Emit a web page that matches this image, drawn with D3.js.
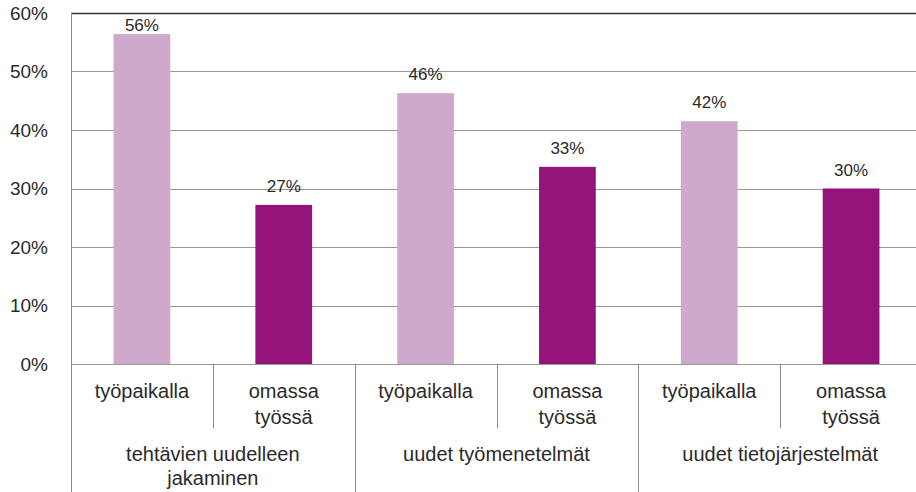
<!doctype html>
<html>
  <head>
    <meta charset="utf-8">
    <title>Bar chart with D3</title>
    <script src="https://cdnjs.cloudflare.com/ajax/libs/d3/7.8.5/d3.min.js"></script>
    <style>
      body { margin: 0; background: #fff; }
      text { font-family: "Liberation Sans", Arial, sans-serif; fill: #2a2a2a; }
    </style>
  </head>
  <body>
    <div id="chart"></div>
    <script>
    // data
    const groups = ['tehtävien uudelleen|jakaminen', 'uudet työmenetelmät', 'uudet tietojärjestelmät'];
    const subLabels = ['työpaikalla', 'omassa|työssä'];
    const workplace = [56.4, 46.3, 41.5];
    const ownWork = [27.2, 33.7, 30.0];
    const valueLabels = ['56%', '27%', '46%', '33%', '42%', '30%'];
    const yTicks = [0, 10, 20, 30, 40, 50, 60];

    const colors = ['#cfa9cc', '#93137a'];

    // flatten into one row per bar
    const bars = [];
    groups.forEach((g, gi) => {
      bars.push({ key: gi + '-0', group: gi, sub: 0, value: workplace[gi] });
      bars.push({ key: gi + '-1', group: gi, sub: 1, value: ownWork[gi] });
    });
    bars.forEach((d, i) => d.label = valueLabels[i]);

    const width = 916, height = 492;
    const mLeft = 71, mRight = 922, mTop = 13, mBottom = 364;

    const svg = d3.select('#chart').append('svg')
      .attr('width', width)
      .attr('height', height);

    const x = d3.scaleBand()
      .domain(bars.map(d => d.key))
      .range([mLeft, mRight])
      .paddingInner(0.6)
      .paddingOuter(0.3);

    const xGroup = d3.scaleBand()
      .domain(groups.map((g, i) => i))
      .range([mLeft, mRight]);

    const y = d3.scaleLinear()
      .domain([0, 60])
      .range([mBottom, mTop]);

    // gridlines
    svg.append('g')
      .selectAll('line')
      .data(yTicks)
      .join('line')
      .attr('x1', mLeft).attr('x2', width)
      .attr('y1', d => Math.round(y(d)) + 0.5)
      .attr('y2', d => Math.round(y(d)) + 0.5)
      .attr('stroke', d => d === 60 ? '#333' : '#999')
      .attr('stroke-width', d => d === 60 ? 1.5 : 1);

    // y tick labels
    svg.append('g')
      .selectAll('text')
      .data(yTicks)
      .join('text')
      .attr('x', 48)
      .attr('y', d => y(d))
      .attr('dy', '0.36em')
      .attr('text-anchor', 'end')
      .style('font-size', '19px')
      .text(d => d + '%');

    // bars
    svg.append('g')
      .selectAll('rect')
      .data(bars)
      .join('rect')
      .attr('x', d => x(d.key))
      .attr('y', d => y(d.value))
      .attr('width', x.bandwidth())
      .attr('height', d => y(0) - y(d.value))
      .attr('fill', d => colors[d.sub]);

    // value labels
    svg.append('g')
      .selectAll('text')
      .data(bars)
      .join('text')
      .attr('x', d => x(d.key) + x.bandwidth() / 2)
      .attr('y', d => Math.max(y(d.value) - 13, 31))
      .attr('text-anchor', 'middle')
      .style('font-size', '17px')
      .text(d => d.label);

    // left axis line, running down through the category area
    svg.append('line')
      .attr('x1', mLeft + 0.5).attr('x2', mLeft + 0.5)
      .attr('y1', mTop).attr('y2', height)
      .attr('stroke', '#888');

    // inner separators between the two bars of each group
    svg.append('g')
      .selectAll('line')
      .data(groups.map((g, i) => i))
      .join('line')
      .attr('x1', d => Math.round(xGroup(d) + xGroup.bandwidth() / 2) + 0.5)
      .attr('x2', d => Math.round(xGroup(d) + xGroup.bandwidth() / 2) + 0.5)
      .attr('y1', mBottom)
      .attr('y2', 428)
      .attr('stroke', '#888');

    // group separators
    svg.append('g')
      .selectAll('line')
      .data(groups.map((g, i) => i).slice(1))
      .join('line')
      .attr('x1', d => Math.round(xGroup(d)) + 0.5)
      .attr('x2', d => Math.round(xGroup(d)) + 0.5)
      .attr('y1', mBottom)
      .attr('y2', height)
      .attr('stroke', '#888');

    // sub category labels
    const subText = svg.append('g')
      .selectAll('text')
      .data(bars)
      .join('text')
      .attr('text-anchor', 'middle')
      .style('font-size', '20px');
    subText.each(function(d) {
      const lines = subLabels[d.sub].split('|');
      const cx = x(d.key) + x.bandwidth() / 2;
      d3.select(this).selectAll('tspan')
        .data(lines)
        .join('tspan')
        .attr('x', cx)
        .attr('y', (l, i) => 398 + i * 26)
        .text(l => l);
    });

    // group labels
    const groupText = svg.append('g')
      .selectAll('text')
      .data(groups)
      .join('text')
      .attr('text-anchor', 'middle')
      .style('font-size', '20px');
    groupText.each(function(g, gi) {
      const lines = g.split('|');
      const cx = xGroup(gi) + xGroup.bandwidth() / 2;
      d3.select(this).selectAll('tspan')
        .data(lines)
        .join('tspan')
        .attr('x', cx)
        .attr('y', (l, i) => 461 + i * 24)
        .text(l => l);
    });
    </script>
  </body>
</html>
